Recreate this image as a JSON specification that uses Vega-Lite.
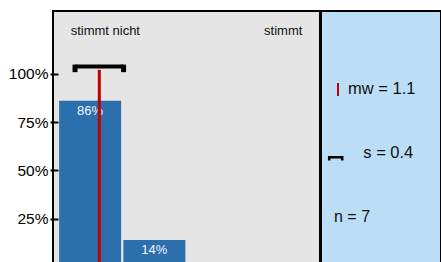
{
  "$schema": "https://vega.github.io/schema/vega-lite/v6.json",
  "padding": {"left": 7, "top": 10, "right": 0, "bottom": 0},
  "background": "white",
  "spacing": -1,
  "config": {
    "view": {"stroke": "black", "strokeWidth": 2},
    "font": "Liberation Sans"
  },
  "datasets": {
    "bars": [
      {"cat": 1, "pct": 0.86},
      {"cat": 2, "pct": 0.14}
    ],
    "stats": [
      {"mw": 1.143, "lo": 0.765, "hi": 1.521}
    ],
    "ends": [
      {"label": "stimmt nicht", "cat": 1},
      {"label": "stimmt", "cat": 4}
    ],
    "legend": [
      {"item": "mw", "label": "mw = 1.1"},
      {"item": "s", "label": "s = 0.4"},
      {"item": "n", "label": "n = 7"}
    ]
  },
  "hconcat": [
    {
      "width": 267,
      "height": 256,
      "view": {"fill": "#e5e5e5"},
      "layer": [
        {
          "data": {"name": "bars"},
          "mark": {"type": "bar", "width": 62, "color": "#2b6fad"},
          "encoding": {
            "x": {"field": "cat", "type": "quantitative", "scale": {"domain": [0.5, 4.5], "nice": false, "zero": false}, "axis": null},
            "y": {
              "field": "pct",
              "type": "quantitative",
              "scale": {"domain": [0, 1.3244], "nice": false},
              "axis": {
                "values": [0.25, 0.5, 0.75, 1],
                "format": ".0%",
                "domain": false,
                "grid": false,
                "ticks": true,
                "tickSize": 8,
                "tickWidth": 2,
                "tickColor": "black",
                "labelFontSize": 15.5,
                "labelColor": "black",
                "labelFont": "Liberation Sans",
                "labelPadding": 2,
                "offset": -5,
                "title": null
              }
            }
          }
        },
        {
          "data": {"name": "bars"},
          "mark": {"type": "text", "baseline": "top", "dy": 4, "fontSize": 13, "color": "#f2f6fb"},
          "encoding": {
            "x": {"field": "cat", "type": "quantitative"},
            "y": {"field": "pct", "type": "quantitative"},
            "text": {"field": "pct", "type": "quantitative", "format": ".0%"}
          }
        },
        {
          "data": {"name": "stats"},
          "mark": {"type": "rule", "color": "#c00000", "strokeWidth": 3},
          "encoding": {
            "x": {"field": "mw", "type": "quantitative"},
            "y": {"datum": 0},
            "y2": {"datum": 1.02}
          }
        },
        {
          "data": {"name": "stats"},
          "mark": {"type": "rule", "color": "black", "strokeWidth": 4},
          "encoding": {
            "x": {"field": "lo", "type": "quantitative"},
            "x2": {"field": "hi"},
            "y": {"datum": 1.037}
          }
        },
        {
          "data": {"name": "stats"},
          "mark": {"type": "rule", "color": "black", "strokeWidth": 5},
          "encoding": {
            "x": {"field": "lo", "type": "quantitative"},
            "y": {"datum": 1.047},
            "y2": {"datum": 1.008}
          }
        },
        {
          "data": {"name": "stats"},
          "mark": {"type": "rule", "color": "black", "strokeWidth": 5},
          "encoding": {
            "x": {"field": "hi", "type": "quantitative"},
            "y": {"datum": 1.047},
            "y2": {"datum": 1.008}
          }
        },
        {
          "data": {"name": "ends"},
          "transform": [{"filter": "datum.cat == 1"}],
          "mark": {"type": "text", "align": "left", "baseline": "middle", "xOffset": -19.5, "fontSize": 13, "color": "#111"},
          "encoding": {
            "x": {"field": "cat", "type": "quantitative"},
            "y": {"datum": 1.2235},
            "text": {"field": "label"}
          }
        },
        {
          "data": {"name": "ends"},
          "transform": [{"filter": "datum.cat == 4"}],
          "mark": {"type": "text", "align": "right", "baseline": "middle", "xOffset": 19.5, "fontSize": 13, "color": "#111"},
          "encoding": {
            "x": {"field": "cat", "type": "quantitative"},
            "y": {"datum": 1.2235},
            "text": {"field": "label"}
          }
        }
      ]
    },
    {
      "width": 120,
      "height": 256,
      "view": {"fill": "#bcddf6"},
      "data": {"name": "legend"},
      "encoding": {
        "y": {
          "field": "item",
          "type": "nominal",
          "scale": {"type": "point", "domain": ["mw", "s", "n"], "padding": 1, "align": 0.609},
          "axis": null
        }
      },
      "layer": [
        {
          "transform": [{"filter": "datum.item == 'mw'"}],
          "mark": {"type": "text", "align": "left", "baseline": "middle", "xOffset": -33, "fontSize": 16.5, "color": "#111"},
          "encoding": {"text": {"field": "label"}}
        },
        {
          "transform": [{"filter": "datum.item == 's'"}],
          "mark": {"type": "text", "align": "left", "baseline": "middle", "xOffset": -17.7, "fontSize": 16.5, "color": "#111"},
          "encoding": {"text": {"field": "label"}}
        },
        {
          "transform": [{"filter": "datum.item == 'n'"}],
          "mark": {"type": "text", "align": "left", "baseline": "middle", "xOffset": -47, "fontSize": 16, "color": "#111"},
          "encoding": {"text": {"field": "label"}}
        },
        {
          "transform": [{"filter": "datum.item == 'mw'"}],
          "mark": {"type": "point", "shape": "M0,-1L0,1", "size": 169, "filled": false, "stroke": "#c00000", "strokeWidth": 2, "opacity": 1, "xOffset": -43, "yOffset": 0.5}
        },
        {
          "transform": [{"filter": "datum.item == 's'"}],
          "mark": {"type": "point", "shape": "M-1,0.5L-1,0L1,0L1,0.5", "size": 169, "filled": false, "stroke": "black", "strokeWidth": 2.5, "opacity": 1, "xOffset": -45.3, "yOffset": 4.3}
        }
      ]
    }
  ]
}
